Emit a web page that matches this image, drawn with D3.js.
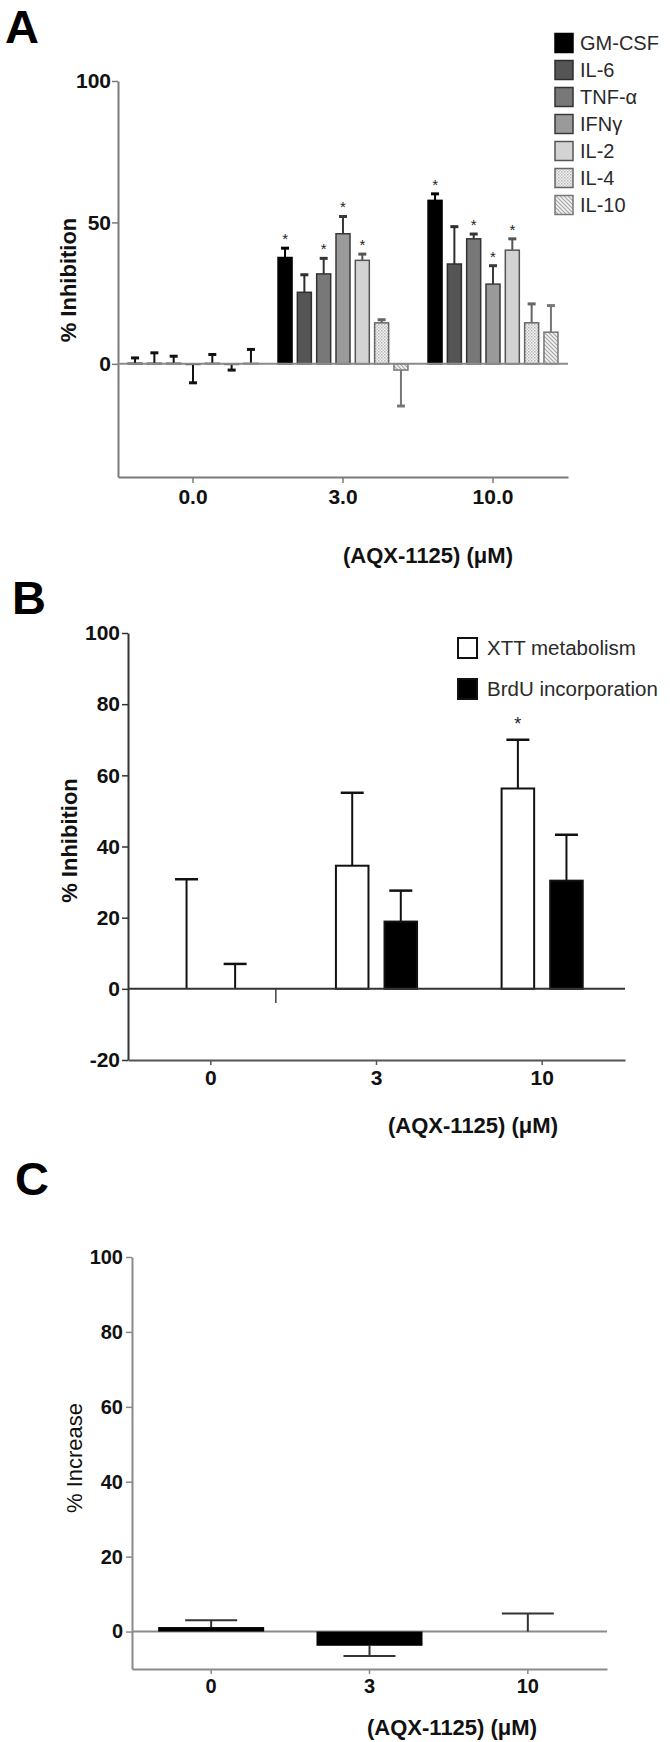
<!DOCTYPE html>
<html><head><meta charset="utf-8">
<script src="https://cdn.jsdelivr.net/npm/d3@7"></script>
<style>
body{margin:0;background:#fff}
svg{display:block}
text{font-family:"Liberation Sans",Arial,Helvetica,sans-serif}
</style>
</head><body>
<svg id="chart" width="670" height="1742"></svg>
<script>
// ---------- DATA ----------
// Panel A: cytokine release inhibition
const concA = ["0.0", "3.0", "10.0"];
const cytokines = ["GM-CSF", "IL-6", "TNF-α", "IFNγ", "IL-2", "IL-4", "IL-10"];
const aVal0  = [0.2, 0.2, 0.2, -0.2, 0.2, -0.2, 0.2];
const aErr0  = [1.9, 3.7, 2.5, 6.5, 3.1, 2.0, 4.9];
const aVal3  = [37.6, 25.3, 31.8, 46.0, 36.6, 14.5, -2.2];
const aErr3  = [3.3, 6.2, 5.5, 6.1, 2.2, 1.1, 12.7];
const aVal10 = [57.8, 35.3, 44.2, 28.2, 40.2, 14.5, 11.2];
const aErr10 = [2.3, 13.2, 1.7, 6.5, 4.0, 6.7, 9.4];
const aStar3  = [1, 0, 1, 1, 1, 0, 0];
const aStar10 = [1, 0, 1, 1, 1, 0, 0];
const aTicks = [0, 50, 100];

// Panel B: XTT metabolism / BrdU incorporation
const concB = ["0", "3", "10"];
const assays = ["XTT metabolism", "BrdU incorporation"];
const xttVal  = [0, 34.6, 56.3];
const xttErr  = [30.8, 20.5, 13.7];
const brduVal = [0, 18.9, 30.4];
const brduErr = [7.0, 8.7, 12.9];
const xttStar = [0, 0, 1];
const bStubGroup = ["0"];
const bStubVal = [-4.0];
const bTicks = [-20, 0, 20, 40, 60, 80, 100];

// Panel C: % increase
const concC = ["0", "3", "10"];
const cVal = [1.2, -3.8, 0];
const cErr = [1.8, 2.7, 4.8];
const cTicks = [0, 20, 40, 60, 80, 100];

const xTitle = "(AQX-1125) (μM)";

// ---------- STYLE ----------
const aFill = ["#000000", "#555555", "#787878", "#9a9a9a", "#d3d3d3", "url(#dots)", "url(#hatch)"];
const aStroke = ["#000000", "#2e2e2e", "#333333", "#3a3a3a", "#555555", "#666666", "#777777"];
const plainFmt = d => String(d);

const svg = d3.select("#chart");
const defs = svg.append("defs");
const pd = defs.append("pattern").attr("id", "dots").attr("patternUnits", "userSpaceOnUse")
  .attr("width", 3).attr("height", 3);
pd.append("rect").attr("width", 3).attr("height", 3).attr("fill", "#f4f4f4");
pd.append("rect").attr("width", 1.5).attr("height", 1.5).attr("fill", "#b5b5b5");
pd.append("rect").attr("x", 1.5).attr("y", 1.5).attr("width", 1.5).attr("height", 1.5).attr("fill", "#c8c8c8");
const ph = defs.append("pattern").attr("id", "hatch").attr("patternUnits", "userSpaceOnUse")
  .attr("width", 4).attr("height", 4);
ph.append("rect").attr("width", 4).attr("height", 4).attr("fill", "#f2f2f2");
ph.append("path").attr("d", "M-1,-1 L5,5 M-1,3 L1,5 M3,-1 L5,1").attr("stroke", "#a8a8a8").attr("stroke-width", 1.2);

function styleAxis(g, color, fs) {
  g.select(".domain").attr("stroke", color).attr("stroke-width", 2);
  g.selectAll(".tick line").attr("stroke", color).attr("stroke-width", 1.5);
  g.selectAll(".tick text").attr("fill", "#111").attr("font-size", fs).attr("font-weight", "bold")
    .attr("font-family", '"Liberation Sans",Arial,sans-serif');
}

function panelLetter(t, x, y) {
  svg.append("text").attr("x", x).attr("y", y).text(t)
    .attr("font-size", 47).attr("font-weight", "bold").attr("fill", "#000");
}

// ---------- PANEL A ----------
panelLetter("A", 5, 43);
const xA = d3.scaleBand().domain(concA).range([118, 568]);
const xAin = d3.scaleBand().domain(cytokines).range([-75, 75]).paddingInner(0.275).paddingOuter(0.52);
const yA = d3.scaleLinear().domain([-40, 100]).range([477, 81]);

const gA = svg.append("g");
gA.append("g").attr("transform", "translate(118,0)")
  .call(d3.axisLeft(yA).tickValues(aTicks).tickSize(6).tickSizeOuter(0).tickPadding(1).tickFormat(plainFmt))
  .call(g => styleAxis(g, "#7a7a7a", 21));
gA.append("g").attr("transform", `translate(0,${yA(-40)})`)
  .call(d3.axisBottom(xA).tickSize(6).tickSizeOuter(0).tickPadding(6))
  .call(g => styleAxis(g, "#7a7a7a", 21));

const aVals = [aVal0, aVal3, aVal10], aErrs = [aErr0, aErr3, aErr10], aStars = [[0,0,0,0,0,0,0], aStar3, aStar10];
const rowsA = concA.flatMap((c, gi) => cytokines.map((s, si) => ({
  c, s, si, v: aVals[gi][si], e: aErrs[gi][si], star: aStars[gi][si]
})));
const cxA = d => xA(d.c) + xA.bandwidth() / 2 + xAin(d.s) + xAin.bandwidth() / 2;

// error bars
const ebA = gA.append("g");
rowsA.forEach(d => {
  const tip = d.v >= 0 ? d.v + d.e : d.v - d.e;
  const col = d.c === "0.0" ? "#111" : aStroke[d.si];
  ebA.append("line").attr("x1", cxA(d)).attr("x2", cxA(d)).attr("y1", yA(d.v)).attr("y2", yA(tip))
    .attr("stroke", col).attr("stroke-width", 2);
  ebA.append("line").attr("x1", cxA(d) - 4).attr("x2", cxA(d) + 4).attr("y1", yA(tip)).attr("y2", yA(tip))
    .attr("stroke", col).attr("stroke-width", 3);
});
// bars
gA.append("g").selectAll("rect").data(rowsA).join("rect")
  .attr("x", d => cxA(d) - xAin.bandwidth() / 2)
  .attr("y", d => yA(Math.max(0, d.v)))
  .attr("width", xAin.bandwidth())
  .attr("height", d => Math.abs(yA(d.v) - yA(0)))
  .attr("fill", d => aFill[d.si]).attr("stroke", d => aStroke[d.si]).attr("stroke-width", 1.5);
// zero line
gA.append("line").attr("x1", 118).attr("x2", 568).attr("y1", yA(0)).attr("y2", yA(0))
  .attr("stroke", "#8a8a8a").attr("stroke-width", 2);
// stars
gA.append("g").selectAll("text").data(rowsA.filter(d => d.star)).join("text")
  .attr("x", cxA).attr("y", d => yA(d.v + d.e) - 4).attr("text-anchor", "middle")
  .attr("font-size", 15).attr("fill", "#222").text("*");
// titles
svg.append("text").attr("transform", `translate(68,${(yA(100) + yA(-40)) / 2 + 1}) rotate(-90)`)
  .attr("text-anchor", "middle").attr("dy", "0.35em").attr("font-size", 22).attr("font-weight", "bold")
  .attr("fill", "#111").text("% Inhibition");
svg.append("text").attr("x", 428).attr("y", 563).attr("text-anchor", "middle")
  .attr("font-size", 22).attr("font-weight", "bold").attr("fill", "#111").text(xTitle);
// legend A
const legA = svg.append("g");
cytokines.forEach((s, i) => {
  const cy = 43 + i * 27;
  legA.append("rect").attr("x", 555).attr("y", cy - 9.5).attr("width", 18).attr("height", 19)
    .attr("fill", aFill[i]).attr("stroke", aStroke[i]).attr("stroke-width", 1.5);
  legA.append("text").attr("x", 580).attr("y", cy).attr("dy", "0.36em").attr("font-size", 20)
    .attr("fill", "#2a2a2a").text(s);
});

// ---------- PANEL B ----------
panelLetter("B", 12, 614);
const xB = d3.scaleBand().domain(concB).range([128, 625]);
const xBin = d3.scaleBand().domain(assays).range([-60, 60]).paddingInner(0.33).paddingOuter(0.4);
const yB = d3.scaleLinear().domain([-20, 100]).range([1060, 633]);
const gB = svg.append("g");
gB.append("g").attr("transform", "translate(128,0)")
  .call(d3.axisLeft(yB).tickValues(bTicks).tickSize(6).tickSizeOuter(0).tickPadding(2).tickFormat(plainFmt))
  .call(g => styleAxis(g, "#333", 21));
gB.append("g").attr("transform", `translate(0,${yB(-20)})`)
  .call(d3.axisBottom(xB).tickSize(5).tickSizeOuter(0).tickPadding(5))
  .call(g => styleAxis(g, "#555", 21));

const rowsB = concB.flatMap((c, gi) => [
  { c, s: assays[0], v: xttVal[gi], e: xttErr[gi], star: xttStar[gi], fill: "#fff" },
  { c, s: assays[1], v: brduVal[gi], e: brduErr[gi], star: 0, fill: "#000" }
]);
const cxB = d => xB(d.c) + xB.bandwidth() / 2 + xBin(d.s) + xBin.bandwidth() / 2;
rowsB.forEach(d => {
  const tip = d.v + d.e;
  gB.append("line").attr("x1", cxB(d)).attr("x2", cxB(d)).attr("y1", yB(d.v)).attr("y2", yB(tip))
    .attr("stroke", "#111").attr("stroke-width", 2);
  gB.append("line").attr("x1", cxB(d) - 11.5).attr("x2", cxB(d) + 11.5).attr("y1", yB(tip)).attr("y2", yB(tip))
    .attr("stroke", "#111").attr("stroke-width", 2.5);
});
gB.append("g").selectAll("rect").data(rowsB.filter(d => d.v !== 0)).join("rect")
  .attr("x", d => cxB(d) - xBin.bandwidth() / 2)
  .attr("y", d => yB(Math.max(0, d.v)))
  .attr("width", xBin.bandwidth())
  .attr("height", d => Math.abs(yB(d.v) - yB(0)))
  .attr("fill", d => d.fill).attr("stroke", "#111").attr("stroke-width", 2);
// stray negative whisker at group 0
bStubGroup.forEach((g, i) => {
  const x = xB(g) + xB.bandwidth() / 2 + xBin.range()[1] + 5;
  gB.append("line").attr("x1", x).attr("x2", x).attr("y1", yB(0)).attr("y2", yB(bStubVal[i]))
    .attr("stroke", "#444").attr("stroke-width", 1.5);
});
gB.append("line").attr("x1", 128).attr("x2", 625).attr("y1", yB(0)).attr("y2", yB(0))
  .attr("stroke", "#333").attr("stroke-width", 2);
gB.append("g").selectAll("text").data(rowsB.filter(d => d.star)).join("text")
  .attr("x", cxB).attr("y", d => yB(d.v + d.e) - 10).attr("text-anchor", "middle")
  .attr("font-size", 18).attr("fill", "#222").text("*");
svg.append("text").attr("transform", `translate(69,${(yB(100) + yB(-20)) / 2 - 6}) rotate(-90)`)
  .attr("text-anchor", "middle").attr("dy", "0.35em").attr("font-size", 22).attr("font-weight", "bold")
  .attr("fill", "#111").text("% Inhibition");
svg.append("text").attr("x", 473).attr("y", 1133).attr("text-anchor", "middle")
  .attr("font-size", 22).attr("font-weight", "bold").attr("fill", "#111").text(xTitle);
const bLegFill = ["#fff", "#000"];
assays.forEach((s, i) => {
  const cy = 648 + i * 41;
  svg.append("rect").attr("x", 458).attr("y", cy - 10).attr("width", 19).attr("height", 20)
    .attr("fill", bLegFill[i]).attr("stroke", "#111").attr("stroke-width", 2);
  svg.append("text").attr("x", 487).attr("y", cy).attr("dy", "0.36em").attr("font-size", 20.5)
    .attr("fill", "#2a2a2a").text(s);
});

// ---------- PANEL C ----------
panelLetter("C", 15, 1195);
const xC = d3.scaleBand().domain(concC).range([132, 607]);
const yC = d3.scaleLinear().domain([-10, 100]).range([1669, 1257]);
const gC = svg.append("g");
gC.append("g").attr("transform", "translate(132,0)")
  .call(d3.axisLeft(yC).tickValues(cTicks).tickSize(6).tickSizeOuter(0).tickPadding(3).tickFormat(plainFmt))
  .call(g => styleAxis(g, "#8a8a8a", 20));
gC.append("g").attr("transform", `translate(0,${yC(-10)})`)
  .call(d3.axisBottom(xC).tickSize(5).tickSizeOuter(0).tickPadding(5))
  .call(g => styleAxis(g, "#8a8a8a", 20));
const rowsC = concC.map((c, i) => ({ c, v: cVal[i], e: cErr[i] }));
const cxC = d => xC(d.c) + xC.bandwidth() / 2;
const barWC = 106;
gC.append("line").attr("x1", 132).attr("x2", 607).attr("y1", yC(0)).attr("y2", yC(0))
  .attr("stroke", "#8a8a8a").attr("stroke-width", 2);
rowsC.forEach(d => {
  const tip = d.v >= 0 ? d.v + d.e : d.v - d.e;
  gC.append("line").attr("x1", cxC(d)).attr("x2", cxC(d)).attr("y1", yC(d.v)).attr("y2", yC(tip))
    .attr("stroke", "#333").attr("stroke-width", 2);
  gC.append("line").attr("x1", cxC(d) - 26).attr("x2", cxC(d) + 26).attr("y1", yC(tip)).attr("y2", yC(tip))
    .attr("stroke", "#333").attr("stroke-width", 2);
});
gC.append("g").selectAll("rect").data(rowsC).join("rect")
  .attr("x", d => cxC(d) - barWC / 2)
  .attr("y", d => yC(Math.max(0, d.v)))
  .attr("width", barWC)
  .attr("height", d => Math.abs(yC(d.v) - yC(0)))
  .attr("fill", "#000");
svg.append("text").attr("transform", `translate(74,1458) rotate(-90)`)
  .attr("text-anchor", "middle").attr("dy", "0.35em").attr("font-size", 22)
  .attr("fill", "#111").text("% Increase");
svg.append("text").attr("x", 452).attr("y", 1735).attr("text-anchor", "middle")
  .attr("font-size", 22).attr("font-weight", "bold").attr("fill", "#111").text(xTitle);
</script>
</body></html>
